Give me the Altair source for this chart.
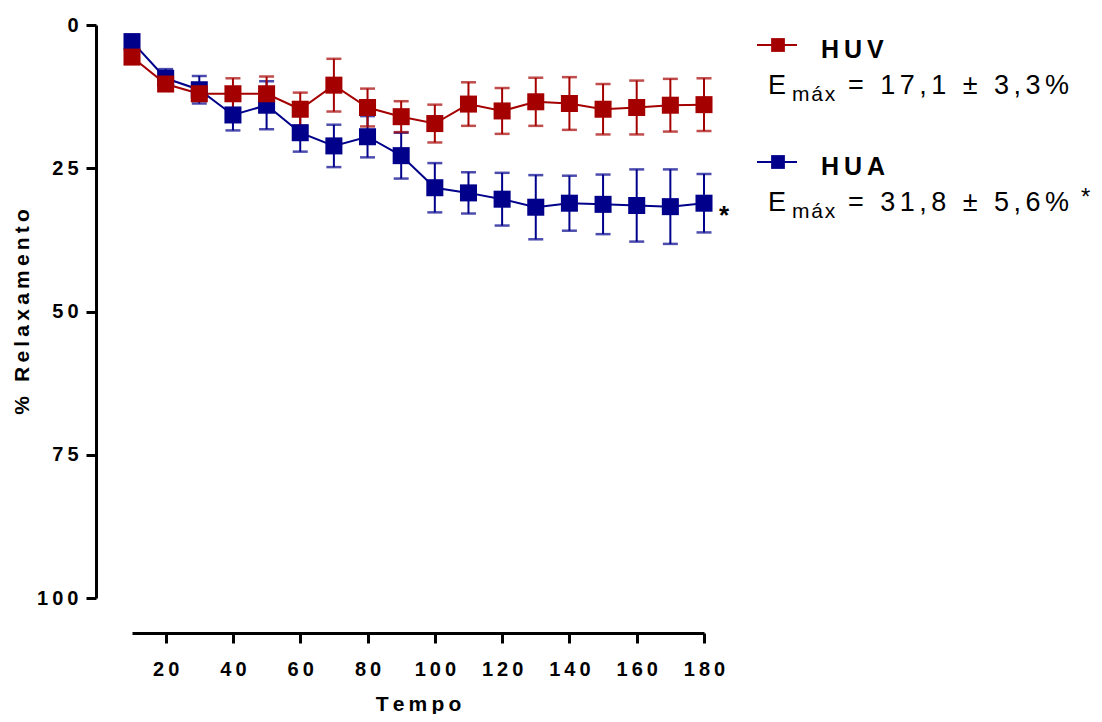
import altair as alt
import pandas as pd

tempo = [10, 20, 30, 40, 50, 60, 70, 80, 90, 100, 110, 120, 130, 140, 150, 160, 170, 180]
huv_mean = [5.6, 10.3, 12.0, 12.0, 12.0, 14.7, 10.5, 14.4, 16.0, 17.2, 13.8, 15.0, 13.4, 13.7, 14.7, 14.4, 14.0, 13.9]
huv_sem = [0.5, 1.0, 1.0, 2.7, 3.0, 2.9, 4.6, 3.3, 2.7, 3.3, 3.8, 4.0, 4.2, 4.6, 4.4, 4.7, 4.6, 4.6]
hua_mean = [2.9, 9.3, 11.3, 15.7, 14.0, 18.8, 21.1, 19.5, 22.8, 28.4, 29.3, 30.4, 31.8, 31.1, 31.3, 31.5, 31.7, 31.1]
hua_sem = [0.3, 1.6, 2.4, 2.7, 4.2, 3.3, 3.7, 3.6, 4.0, 4.3, 3.6, 4.6, 5.6, 4.8, 5.2, 6.3, 6.5, 5.1]

series_names = ["HUA", "HUV"]
series_colors = ["#00008B", "#A50000"]
emax_texts = ["= 31,8 ± 5,6%", "= 17,1 ± 3,3%"]
x_ticks = [20, 40, 60, 80, 100, 120, 140, 160, 180]
y_ticks = [0, 25, 50, 75, 100]

FONT = "Liberation Sans"
THIN = "\u2009"
SIX = "\u2006"
HAIR = "\u200A"


def spaced(s, sep):
    # letter-spaced rendering of a text (same characters, wider tracking)
    return sep.join(list(s))


rows = []
for name, means, sems in [("HUA", hua_mean, hua_sem), ("HUV", huv_mean, huv_sem)]:
    for t, m, s in zip(tempo, means, sems):
        rows.append({"tempo": t, "serie": name, "valor": m, "lo": m - s, "hi": m + s})
df = pd.DataFrame(rows)

xs = alt.Scale(domain=[10, 180], nice=False, zero=False)
ys = alt.Scale(domain=[0, 100], reverse=True, nice=False)
cs = alt.Scale(domain=series_names, range=series_colors)

label_expr = "join(split(datum.label, ''), '" + THIN + "')"

x_axis = alt.Axis(values=x_ticks, offset=35, grid=False, domainWidth=3, domainColor="black",
                  tickWidth=3, tickSize=10, tickColor="black", labelFont=FONT, labelFontWeight="bold",
                  labelFontSize=20, labelColor="black", labelPadding=16, labelExpr=label_expr,
                  labelFlush=False, labelOverlap=False,
                  title=spaced("Tempo", THIN), titleFont=FONT,
                  titleFontSize=21, titleFontWeight="bold", titleColor="black", titlePadding=14)
y_axis = alt.Axis(values=y_ticks, offset=36, grid=False, domainWidth=3, domainColor="black",
                  tickWidth=3, tickSize=10, tickColor="black", labelFont=FONT, labelFontWeight="bold",
                  labelFontSize=20, labelColor="black", labelPadding=8, labelExpr=label_expr,
                  labelFlush=False, labelOverlap=False,
                  title=spaced("% Relaxamento", THIN), titleFont=FONT,
                  titleFontSize=21, titleFontWeight="bold", titleColor="black", titlePadding=4)

base = alt.Chart(df).encode(
    x=alt.X("tempo:Q", scale=xs, axis=x_axis),
    color=alt.Color("serie:N", scale=cs, legend=None),
)

layers = []
for name in series_names:
    b = base.transform_filter(alt.datum.serie == name)
    layers.append(b.mark_rule(strokeWidth=2).encode(y=alt.Y("lo:Q", scale=ys, axis=y_axis), y2="hi:Q"))
    layers.append(b.mark_tick(orient="horizontal", size=15, thickness=2.5).encode(y=alt.Y("lo:Q", scale=ys, axis=y_axis)))
    layers.append(b.mark_tick(orient="horizontal", size=15, thickness=2.5).encode(y=alt.Y("hi:Q", scale=ys, axis=y_axis)))
    layers.append(b.mark_line(strokeWidth=2).encode(y=alt.Y("valor:Q", scale=ys, axis=y_axis)))
for name in series_names:
    b = base.transform_filter(alt.datum.serie == name)
    layers.append(b.mark_square(size=290, opacity=1, filled=True).encode(y=alt.Y("valor:Q", scale=ys, axis=y_axis)))

# asterisk next to last HUA point
star = base.transform_filter((alt.datum.serie == "HUA") & (alt.datum.tempo == 180)).mark_text(
    text="*", font=FONT, fontSize=26, fontWeight="bold", dx=20, dy=13
).encode(y=alt.Y("valor:Q", scale=ys, axis=y_axis), color=alt.value("black"))
layers.append(star)

# legend built from text/rule/square marks
leg_y = {"HUV": 20, "HUA": 137}
for name, color, etxt in zip(series_names, series_colors, emax_texts):
    yy = leg_y[name]
    one = alt.Chart(pd.DataFrame({"t": [spaced(name, THIN)]}))
    layers.append(one.mark_rule(strokeWidth=2, color=color).encode(
        x=alt.value(625), x2=alt.value(665), y=alt.value(yy)))
    layers.append(one.mark_square(size=190, opacity=1, filled=True, color=color).encode(
        x=alt.value(646), y=alt.value(yy)))
    layers.append(one.mark_text(align="left", baseline="middle", font=FONT, fontSize=25,
                                fontWeight="bold", color="black").encode(
        x=alt.value(689), y=alt.value(yy + 5), text="t:N"))
    layers.append(alt.Chart(pd.DataFrame({"t": ["E"]})).mark_text(
        align="left", baseline="middle", font=FONT, fontSize=27, color="black").encode(
        x=alt.value(636), y=alt.value(yy + 41), text="t:N"))
    layers.append(alt.Chart(pd.DataFrame({"t": [spaced("máx", HAIR)]})).mark_text(
        align="left", baseline="middle", font=FONT, fontSize=21, color="black").encode(
        x=alt.value(660), y=alt.value(yy + 50), text="t:N"))
    layers.append(alt.Chart(pd.DataFrame({"t": [spaced(etxt, SIX)]})).mark_text(
        align="left", baseline="middle", font=FONT, fontSize=27, color="black").encode(
        x=alt.value(716), y=alt.value(yy + 41), text="t:N"))

layers.append(alt.Chart(pd.DataFrame({"t": ["*"]})).mark_text(
    align="left", baseline="middle", font=FONT, fontSize=24, color="black").encode(
    x=alt.value(949), y=alt.value(173), text="t:N"))

chart = alt.layer(*layers).properties(
    width=572, height=573,
    autosize=alt.AutoSizeParams(type="none"),
    padding={"left": 124, "top": 17, "right": 390, "bottom": 116},
).configure_view(stroke=None)

chart.save("out.html", embed_options={"renderer": "svg", "actions": False})
